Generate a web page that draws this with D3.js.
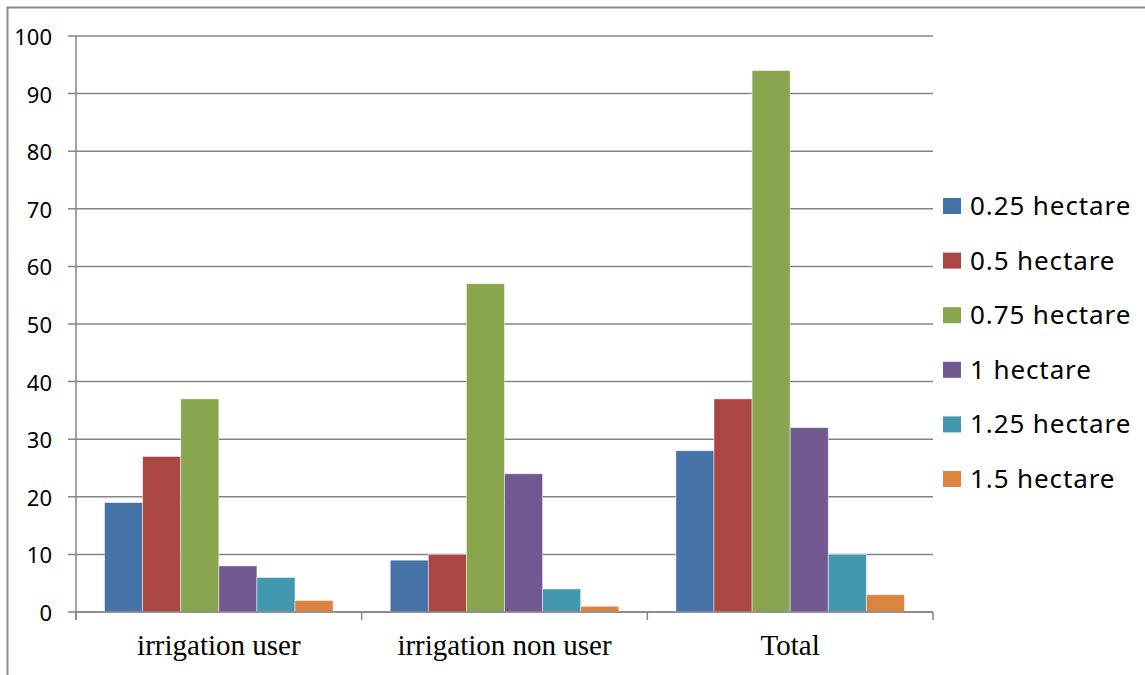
<!DOCTYPE html>
<html>
<head>
<meta charset="utf-8">
<script src="https://cdn.jsdelivr.net/npm/d3@7"></script>
<style>
  html, body { margin: 0; padding: 0; background: #fff; }
  svg { display: block; }
</style>
</head>
<body>
<svg id="chart" width="1145" height="675"></svg>
<script>
const categories = ["irrigation user", "irrigation non user", "Total"];
const seriesNames = ["0.25 hectare", "0.5 hectare", "0.75 hectare", "1 hectare", "1.25 hectare", "1.5 hectare"];
const s025 = [19, 9, 28];
const s05 = [27, 10, 37];
const s075 = [37, 57, 94];
const s1 = [8, 24, 32];
const s125 = [6, 4, 10];
const s15 = [2, 1, 3];
const yTicks = [0, 10, 20, 30, 40, 50, 60, 70, 80, 90, 100];
const colors = ["#4572A7", "#AA4643", "#89A54E", "#71588F", "#4198AF", "#DB843D"];

const seriesValues = [s025, s05, s075, s1, s125, s15];

(function () {
const svg = d3.select("#chart");

// outer border
svg.append("rect")
  .attr("x", 7.5).attr("y", 7.5)
  .attr("width", 1145).attr("height", 680)
  .attr("fill", "none").attr("stroke", "#8c8c8c").attr("stroke-width", 2);

const pLeft = 76, pRight = 933, pTop = 36, pBottom = 612;

const catWidth = (pRight - pLeft) / categories.length;
const xCat = d3.scaleBand().domain(categories).range([pLeft, pRight]).padding(0);
const xInner = d3.scaleBand().domain(seriesNames).range([0, catWidth * 0.8]).padding(0);
const y = d3.scaleLinear().domain([0, 100]).range([pBottom, pTop]);

// gridlines
svg.append("g")
  .selectAll("line")
  .data(yTicks)
  .join("line")
  .attr("x1", pLeft - 8).attr("x2", pRight)
  .attr("y1", d => y(d)).attr("y2", d => y(d))
  .attr("stroke", "#868686").attr("stroke-width", 1.5);

// y axis line
svg.append("line")
  .attr("x1", pLeft).attr("x2", pLeft)
  .attr("y1", pTop).attr("y2", pBottom + 8)
  .attr("stroke", "#868686").attr("stroke-width", 1.5);

// y labels
svg.append("g")
  .selectAll("text")
  .data(yTicks)
  .join("text")
  .attr("x", 52)
  .attr("y", d => y(d) + 9)
  .attr("text-anchor", "end")
  .attr("font-family", "Noto Sans, sans-serif")
  .attr("font-size", 22)
  .attr("fill", "#000")
  .text(d => d);

// bars
const groups = svg.append("g")
  .selectAll("g")
  .data(seriesNames)
  .join("g")
  .attr("fill", (d, i) => colors[i]);

groups.selectAll("rect")
  .data((s, i) => seriesValues[i].map((v, j) => ({ s, v, c: categories[j] })))
  .join("rect")
  .attr("x", d => xCat(d.c) + catWidth * 0.1 + xInner(d.s))
  .attr("width", xInner.bandwidth())
  .attr("y", d => y(d.v))
  .attr("height", d => y(0) - y(d.v))
  .attr("stroke", "#ffffff")
  .attr("stroke-opacity", 0.6)
  .attr("stroke-width", 0.8);

// x axis baseline
svg.append("line")
  .attr("x1", pLeft).attr("x2", pRight)
  .attr("y1", pBottom).attr("y2", pBottom)
  .attr("stroke", "#868686").attr("stroke-width", 1.5);

// category ticks
const tickXs = categories.map(c => xCat(c)).concat([pRight]);
svg.append("g")
  .selectAll("line")
  .data(tickXs)
  .join("line")
  .attr("x1", d => d).attr("x2", d => d)
  .attr("y1", pBottom).attr("y2", pBottom + 8)
  .attr("stroke", "#868686").attr("stroke-width", 1.5);

// category labels
svg.append("g")
  .selectAll("text")
  .data(categories)
  .join("text")
  .attr("x", d => xCat(d) + catWidth / 2)
  .attr("y", 655)
  .attr("text-anchor", "middle")
  .attr("font-family", "Liberation Serif, Times New Roman, serif")
  .attr("font-size", 29)
  .attr("fill", "#000")
  .text(d => d);

// legend
const legendBase = 215, legendStep = 54.6;
const leg = svg.append("g")
  .selectAll("g")
  .data(seriesNames)
  .join("g")
  .attr("transform", (d, i) => `translate(943, ${legendBase + i * legendStep})`);
leg.append("rect")
  .attr("x", 0).attr("y", -17)
  .attr("width", 18).attr("height", 16)
  .attr("fill", (d, i) => colors[i]);
leg.append("text")
  .attr("x", 27).attr("y", 0)
  .attr("font-family", "Noto Sans, sans-serif")
  .attr("font-size", 26)
  .attr("letter-spacing", 0.9)
  .attr("fill", "#000")
  .text(d => d);
})();
</script>
</body>
</html>
